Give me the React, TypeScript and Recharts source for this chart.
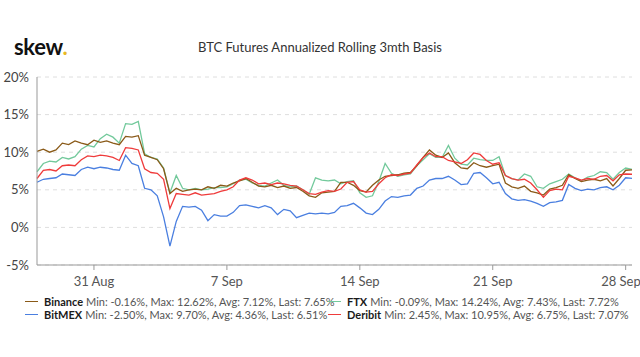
import { LineChart, Line, XAxis, YAxis, CartesianGrid } from 'recharts';

// one sample every 8 hours, starting 28 Aug 00:00 (t in days)
const binance = [
  10.1, 10.4, 10.0, 10.3, 11.2, 11.0, 11.5, 11.2, 11.0, 11.6, 11.3, 11.5, 11.2, 11.0, 12.1, 12.0, 12.2,
  9.6, 9.3, 9.0, 7.8, 4.5, 5.2, 4.8, 5.0, 5.1, 5.0, 5.4, 5.2, 5.6, 5.5, 5.9,
  6.2, 6.5, 6.0, 5.5, 5.4, 5.6, 5.3, 5.5, 5.2, 5.3, 4.8, 4.2, 4.0, 4.6, 4.7, 4.8, 6.0,
  6.0, 5.6, 4.9, 4.7, 5.6, 6.3, 6.8, 6.9, 7.0, 7.2, 7.3, 8.2, 9.3, 10.3, 9.6,
  9.3, 9.9, 8.6, 7.9, 7.8, 8.6, 8.2, 8.0, 8.2, 8.4, 5.9, 5.4, 5.2, 5.5, 4.8, 4.6,
  4.3, 5.1, 5.3, 5.6, 7.0, 6.5, 6.1, 6.3, 6.4, 6.2, 6.5, 5.5, 6.5, 7.6, 7.65,
];
const ftx = [
  7.4, 8.5, 8.8, 8.7, 9.3, 9.1, 9.4, 10.4, 10.9, 10.7, 11.8, 12.4, 12.0, 11.2, 13.8, 13.7, 14.1,
  9.8, 9.3, 9.1, 7.9, 4.6, 6.9, 5.2, 5.0, 5.2, 5.0, 5.1, 5.3, 5.3, 5.4, 5.8,
  6.3, 6.4, 5.9, 5.6, 5.5, 5.9, 6.3, 5.6, 5.4, 5.5, 5.0, 4.4, 6.6, 6.3, 6.2, 6.3, 5.8,
  6.1, 6.2, 4.6, 4.0, 4.2, 6.1, 8.5, 7.2, 6.8, 7.0, 7.1, 8.2, 9.0, 9.8, 9.3,
  9.3, 10.9, 9.2, 8.4, 8.3, 9.2, 9.0, 8.9, 8.9, 9.4, 6.9, 6.5, 6.3, 7.1, 6.8, 5.4,
  5.2, 5.8, 6.1, 6.4, 7.1, 6.6, 6.2, 6.7, 6.9, 7.4, 7.3, 6.4, 7.3, 7.9, 7.72,
];
const bitmex = [
  6.0, 6.4, 6.5, 6.6, 7.1, 7.0, 6.9, 7.7, 8.0, 7.8, 8.0, 7.9, 7.7, 7.6, 9.6, 8.5, 8.2,
  5.2, 5.0, 4.2, 1.4, -2.5, 0.8, 2.8, 2.7, 2.8, 2.3, 0.9, 1.7, 1.5, 1.5, 2.0,
  2.9, 3.0, 2.8, 2.6, 2.9, 2.6, 1.7, 2.4, 2.2, 1.3, 1.6, 1.9, 1.8, 1.9, 1.8, 2.0, 2.8,
  2.9, 3.2, 2.6, 1.9, 1.7, 2.4, 3.5, 4.1, 4.0, 4.2, 4.3, 5.2, 5.5, 6.3, 6.5,
  6.5, 6.8, 6.3, 5.7, 5.8, 7.2, 7.3, 6.6, 5.8, 6.0, 4.5, 3.8, 3.6, 3.7, 3.5, 3.2,
  2.8, 3.3, 3.4, 3.6, 5.7, 5.2, 4.9, 5.1, 5.0, 5.3, 5.4, 5.0, 5.6, 6.6, 6.51,
];
const deribit = [
  6.5, 7.6, 7.7, 7.5, 8.2, 8.3, 8.2, 9.0, 9.5, 9.4, 9.6, 9.5, 9.3, 8.9, 10.6, 10.5, 10.3,
  7.8, 7.3, 7.2, 6.4, 2.5, 4.5, 4.4, 4.3, 4.6, 4.3, 4.4, 4.5, 4.8, 5.0, 5.4,
  6.3, 6.6, 6.3, 5.8, 5.9, 5.7, 5.9, 5.8, 5.6, 5.5, 5.0, 4.5, 4.4, 4.7, 4.9, 4.8, 5.1,
  6.0, 6.1, 5.0, 4.7, 4.8, 5.8, 6.6, 7.0, 6.9, 7.1, 7.2, 8.3, 9.3, 9.9, 9.4,
  9.4, 8.9, 8.7, 8.5, 9.0, 9.9, 9.7, 8.9, 8.4, 8.6, 6.9, 6.5, 6.3, 6.4, 5.9, 5.0,
  4.0, 4.9, 5.1, 5.0, 6.8, 6.6, 6.3, 6.5, 6.4, 6.8, 6.9, 6.2, 7.0, 7.1, 7.07,
];

const xTicks = [3, 10, 17, 24, 31];
const xTickLabels = ['31 Aug', '7 Sep', '14 Sep', '21 Sep', '28 Sep'];
const yTicks = [-5, 0, 5, 10, 15, 20];

const series = [
  { key: 'ftx', name: 'FTX', color: '#72c99b', stats: 'Min: -0.09%, Max: 14.24%, Avg: 7.43%, Last: 7.72%' },
  { key: 'binance', name: 'Binance', color: '#8a5a18', stats: 'Min: -0.16%, Max: 12.62%, Avg: 7.12%, Last: 7.65%' },
  { key: 'bitmex', name: 'BitMEX', color: '#4a7fe0', stats: 'Min: -2.50%, Max: 9.70%, Avg: 4.36%, Last: 6.51%' },
  { key: 'deribit', name: 'Deribit', color: '#ef3b3b', stats: 'Min: 2.45%, Max: 10.95%, Avg: 6.75%, Last: 7.07%' },
];

const data = binance.map((v, i) => ({
  t: i / 3,
  binance: v,
  ftx: ftx[i],
  bitmex: bitmex[i],
  deribit: deribit[i],
}));

const font = 'Lato, "Open Sans", sans-serif';

// keep the last label inside the canvas, like the original does
function XTick(props: any) {
  const { x, y, payload } = props;
  const label = xTickLabels[xTicks.indexOf(payload.value)];
  const tx = Math.min(x, 621);
  return (
    <text x={tx} y={y + 10} textAnchor="middle" fill="#555" fontSize={13} fontFamily={font}>
      {label}
    </text>
  );
}

function LegendItem({ s, x, y }: { s: any; x: number; y: number }) {
  return (
    <div style={{ position: 'absolute', left: x, top: y, display: 'flex', alignItems: 'center', whiteSpace: 'nowrap', fontSize: 11 }}>
      <span style={{ display: 'inline-block', width: 13, height: 1.5, background: s.color, marginRight: 6 }} />
      <span style={{ color: '#1a1a1a', fontWeight: 700 }}>{s.name}</span>
      <span style={{ color: '#555', marginLeft: 3 }}>{s.stats}</span>
    </div>
  );
}

export default function App() {
  const byKey: any = {};
  series.forEach(s => { byKey[s.key] = s; });
  return (
    <div style={{ position: 'relative', width: 640, height: 357, background: '#fff', fontFamily: font }}>
      <style>{`body{margin:0}`}</style>
      <div style={{ position: 'absolute', left: 14, top: 33, fontSize: 22, fontWeight: 700, color: '#111', letterSpacing: -0.3 }}>
        skew<span style={{ color: '#e8b923' }}>.</span>
      </div>
      <div style={{ position: 'absolute', left: 0, width: 640, top: 39, textAlign: 'center', fontSize: 13, color: '#333' }}>
        BTC Futures Annualized Rolling 3mth Basis
      </div>
      <LineChart width={640} height={357} data={data} margin={{ top: 77, right: 8, left: 0, bottom: 62 }}>
        <CartesianGrid vertical={false} strokeDasharray="4 4" stroke="#dedede" />
        <XAxis
          dataKey="t"
          type="number"
          domain={[0, 31.33]}
          ticks={xTicks}
          stroke="#999"
          tickSize={5}
          height={30}
          tick={<XTick />}
          tickMargin={6}
        />
        <YAxis
          domain={[-5, 20]}
          ticks={yTicks}
          tickFormatter={(v: number) => `${v}%`}
          width={37}
          stroke="#999"
          tickLine={false}
          tick={{ fill: '#444', fontSize: 13, fontFamily: font }}
        />
        {series.map(s => (
          <Line
            key={s.key}
            type="linear"
            dataKey={s.key}
            stroke={s.color}
            strokeWidth={1.3}
            dot={false}
            isAnimationActive={false}
          />
        ))}
      </LineChart>
      <LegendItem s={byKey.binance} x={25} y={295} />
      <LegendItem s={byKey.ftx} x={328} y={295} />
      <LegendItem s={byKey.bitmex} x={25} y={308} />
      <LegendItem s={byKey.deribit} x={328} y={308} />
    </div>
  );
}
